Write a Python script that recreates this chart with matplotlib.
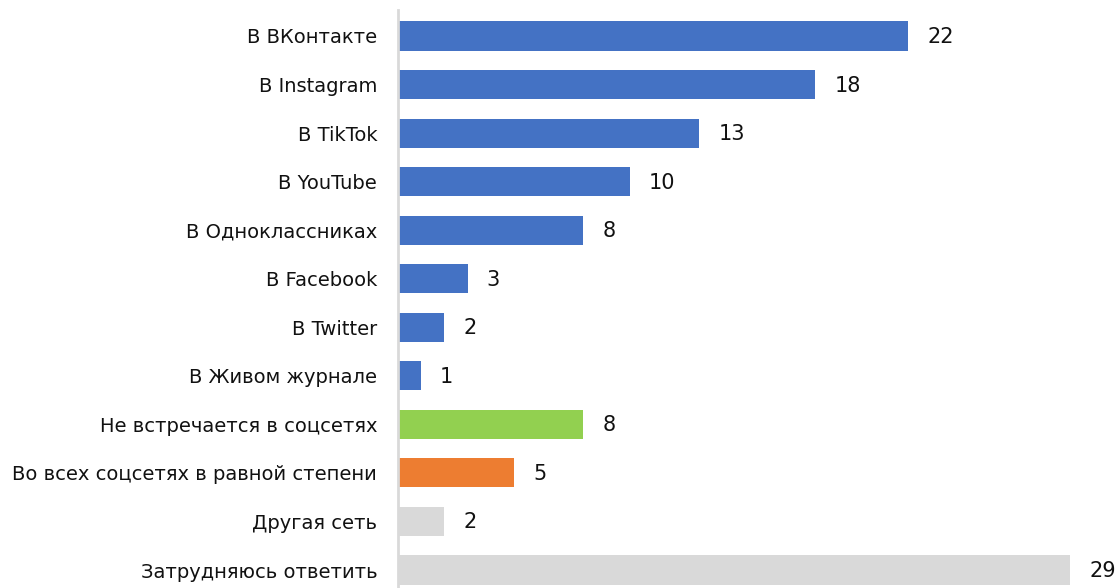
import matplotlib.pyplot as plt

categories = ["В ВКонтакте", "В Instagram", "В TikTok", "В YouTube", "В Одноклассниках",
              "В Facebook", "В Twitter", "В Живом журнале", "Не встречается в соцсетях",
              "Во всех соцсетях в равной степени", "Другая сеть", "Затрудняюсь ответить"]
values = [22, 18, 13, 10, 8, 3, 2, 1, 8, 5, 2, 29]
colors = ["#4472C4"] * 8 + ["#92D050", "#ED7D31", "#D9D9D9", "#D9D9D9"]

plt.rcParams['font.family'] = ["DejaVu Sans"]

W, H = 1116, 588
fig = plt.figure(figsize=(W / 100, H / 100), dpi=100)
ax = fig.add_axes([398 / W, 0, 1 - 398 / W, (588 - 10) / H])

y = list(range(len(categories)))
ax.barh(y, values, height=0.6, color=colors, zorder=2)
for yi, v in zip(y, values):
    ax.annotate(str(v), (v, yi), xytext=(19, -1), textcoords="offset pixels",
                va="center", ha="left", fontsize=15, color="#111111")

ax.set_ylim(11.37, -0.535)
ax.set_xlim(0, 30.97)
ax.set_yticks(y)
ax.set_yticklabels(categories, fontsize=14, color="#111111")
ax.tick_params(axis="y", length=0, pad=15)
ax.set_xticks([])
for s in ["top", "right", "bottom"]:
    ax.spines[s].set_visible(False)
ax.spines["left"].set_color("#D9D9D9")
ax.spines["left"].set_linewidth(2)

fig.savefig("out.png", dpi=100)
